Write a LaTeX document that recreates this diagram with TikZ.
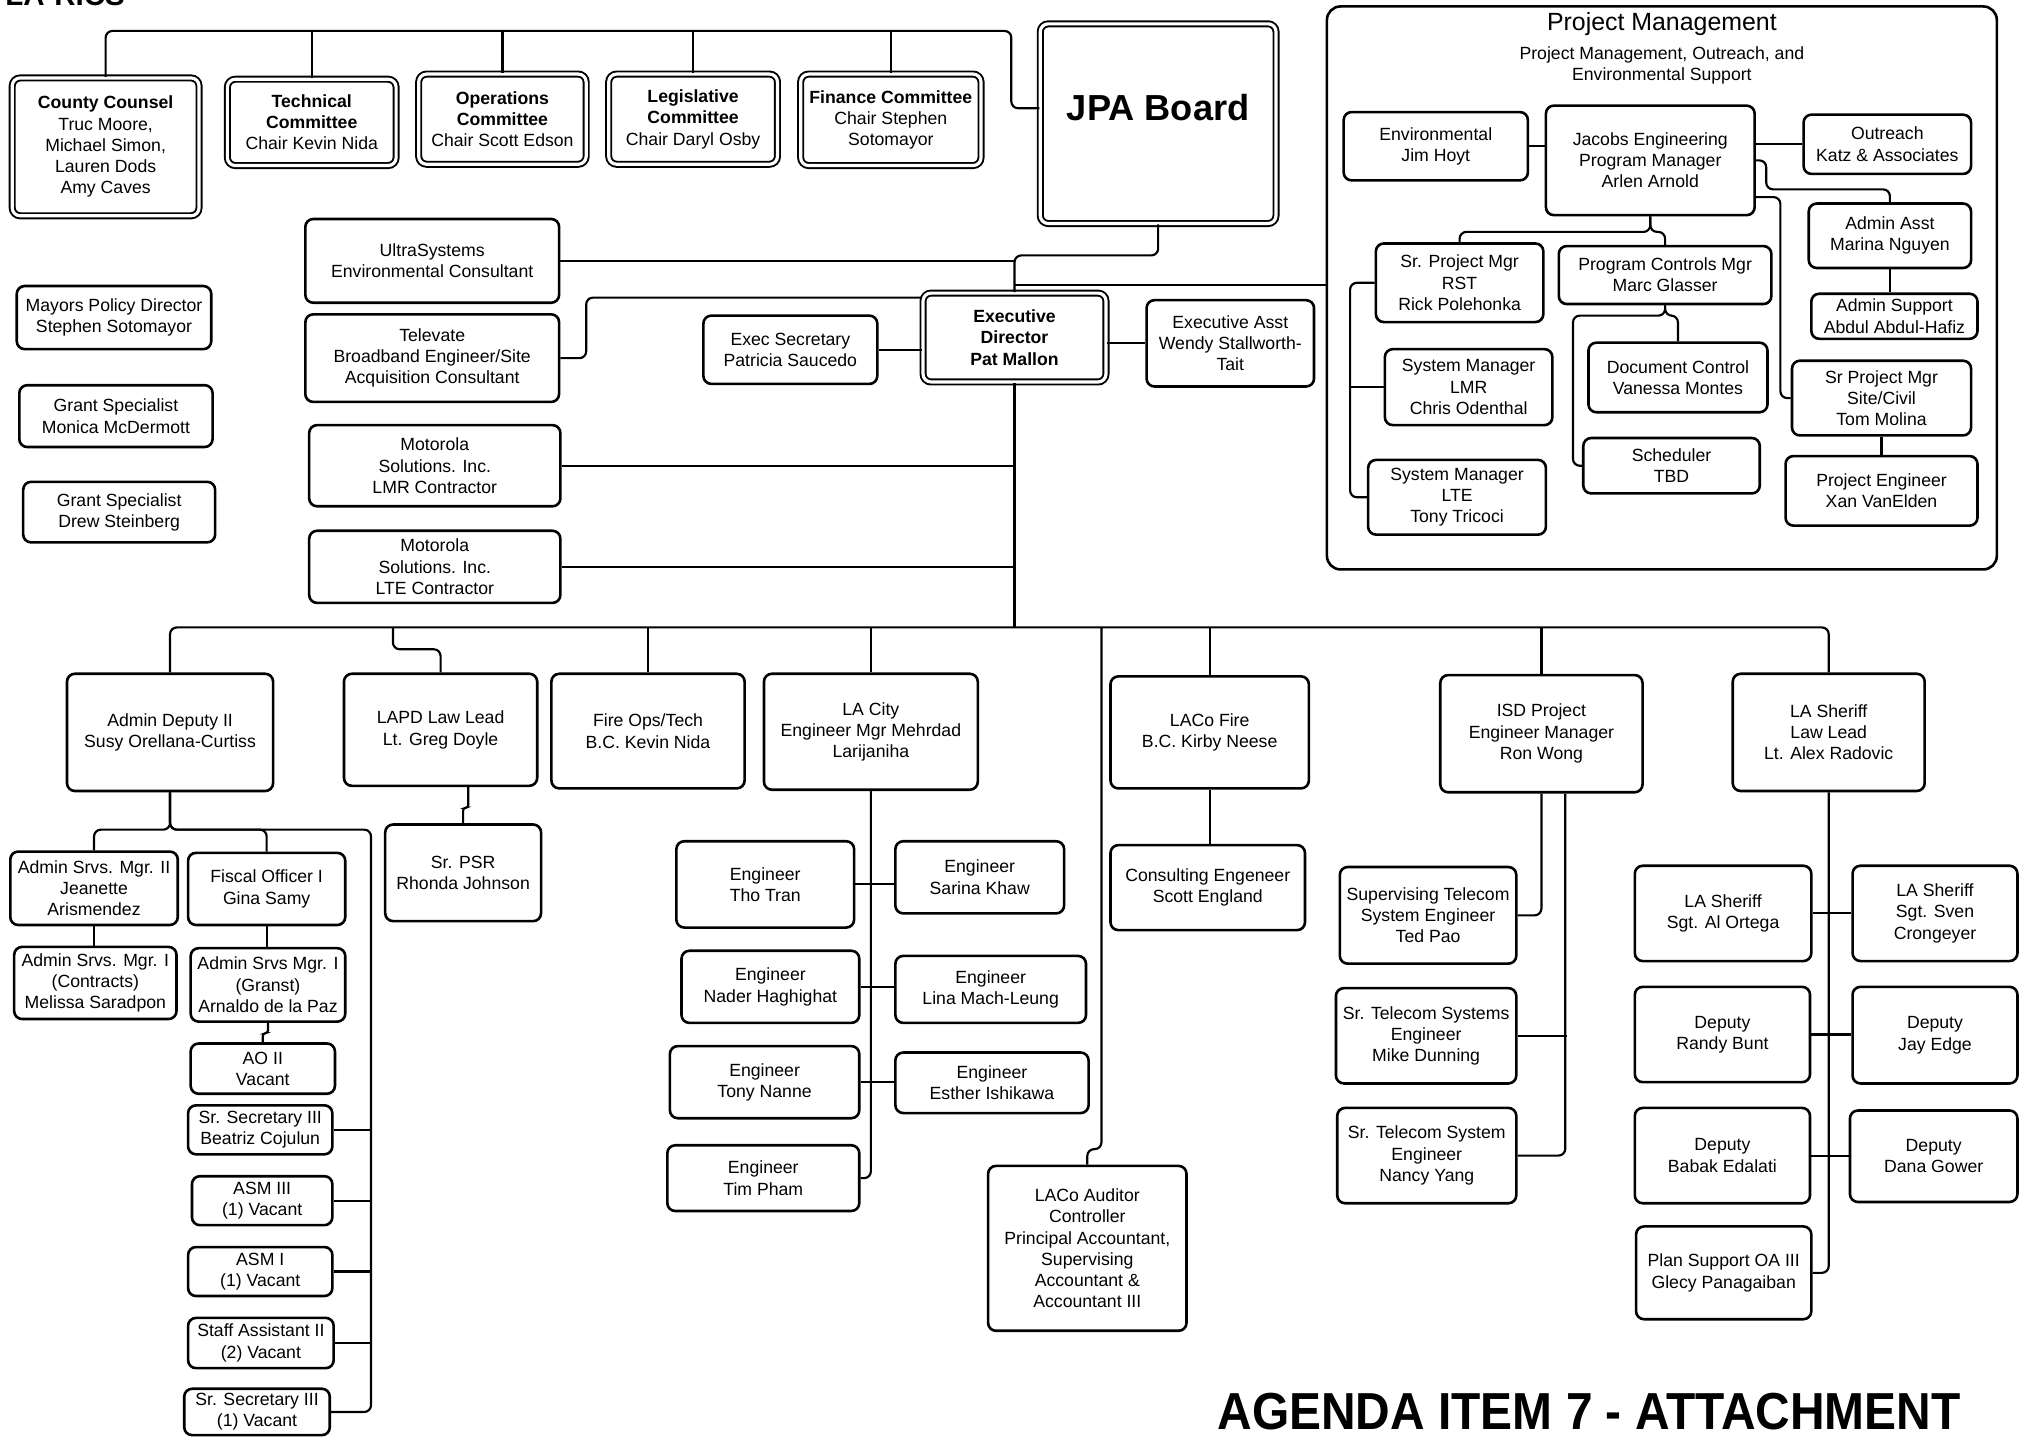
\documentclass[tikz,border=0pt]{standalone}
\usepackage{fontspec}
\setmainfont{Liberation Sans}

\begin{document}
\begin{tikzpicture}[x=0.02cm, y=-0.02cm,
	box/.style={draw, line width=1.15pt, rounded corners=3.5pt, align=center, inner sep=1pt, font=\fontsize{7.8}{9.4}\selectfont},
	board/.style={box, double, double distance=1.4pt, line width=0.85pt},
	group/.style={draw, line width=1.15pt, rounded corners=6pt},
	conn/.style={line width=0.95pt, rounded corners=3pt},
	jog/.style={conn, rounded corners=1.2pt}]

	\useasboundingbox (0,0) rectangle (1568,1116);

	\node[anchor=base west, font=\fontsize{13}{13}\selectfont\bfseries] (larics) at (-2,4) {LA-RICS};

	% board and committees
	\foreach \nm/\cx/\cy/\w/\h/\txt in {
		cc/82/114/145/107/{\textbf{County Counsel}\\Truc Moore,\\Michael Simon,\\Lauren Dods\\Amy Caves},
		tc/242/95/131/67/{\textbf{Technical}\\\textbf{Committee}\\Chair Kevin Nida},
		oc/390/92.5/130/70/{\textbf{Operations}\\\textbf{Committee}\\Chair Scott Edson},
		lc/538/92.5/131/70/{\textbf{Legislative}\\\textbf{Committee}\\Chair Daryl Osby},
		fc/691.5/93/140/71/{\textbf{Finance Committee}\\Chair Stephen\\Sotomayor}}
	{
		\node[board, minimum width=\w*0.02cm, minimum height=\h*0.02cm] (\nm) at (\cx,\cy) {\txt};
	}
	\node[board, minimum width=183*0.02cm, minimum height=155*0.02cm, font=\fontsize{16}{16}\selectfont\bfseries, text depth=0.5cm] (jpa) at (899,96) {JPA Board};
	\node[board, minimum width=142*0.02cm, minimum height=69*0.02cm, font=\fontsize{7.8}{9.4}\selectfont\bfseries] (exd) at (787.5,262) {Executive\\Director\\Pat Mallon};

	% project management
	\node[group, minimum width=520*0.02cm, minimum height=437*0.02cm] (pm) at (1290,223.5) {};
	\node[font=\fontsize{11}{12}\selectfont] (pmtitle) at (1290,19) {Project Management};
	\node[align=center, font=\fontsize{7.8}{9.4}\selectfont] (pmsub) at (1290,51) {Project Management, Outreach, and\\Environmental Support};

	\foreach \nm/\cx/\cy/\w/\h/\txt in {
		env/1114.5/113.5/143/53/{Environmental\\Jim Hoyt},
		jac/1281/124.5/162/85/{Jacobs Engineering\\Program Manager\\Arlen Arnold},
		outr/1465/112/130/46/{Outreach\\Katz \& Associates},
		aasst/1467/183/126/50/{Admin Asst\\Marina Nguyen},
		asup/1470.5/245.5/129/35/{Admin Support\\Abdul Abdul-Hafiz},
		spmrst/1133/219.5/130/61/{Sr. Project Mgr\\RST\\Rick Polehonka},
		pcm/1292.5/213.5/165/45/{Program Controls Mgr\\Marc Glasser},
		smlmr/1140/300.5/130/59/{System Manager\\LMR\\Chris Odenthal},
		smlte/1131/386/138/58/{System Manager\\LTE\\Tony Tricoci},
		doc/1302.5/293/139/54/{Document Control\\Vanessa Montes},
		sched/1297.5/361.5/137/43/{Scheduler\\TBD},
		spmsite/1460.5/309/139/58/{Sr Project Mgr\\Site/Civil\\Tom Molina},
		peng/1460.5/381/149/54/{Project Engineer\\Xan VanElden}}
	{
		\node[box, minimum width=\w*0.02cm, minimum height=\h*0.02cm] (\nm) at (\cx,\cy) {\txt};
	}

	% staff round the director
	\foreach \nm/\cx/\cy/\w/\h/\txt in {
		us/335.5/202.5/197/65/{UltraSystems\\Environmental Consultant},
		tel/335.5/278/197/68/{Televate\\Broadband Engineer/Site\\Acquisition Consultant},
		es/613.5/271.5/135/53/{Exec Secretary\\Patricia Saucedo},
		ea/955/266.5/130/67/{Executive Asst\\Wendy Stallworth-\\Tait},
		mlmr/337.5/361.5/195/63/{Motorola\\Solutions. Inc.\\LMR Contractor},
		mlte/337.5/440/195/56/{Motorola\\Solutions. Inc.\\LTE Contractor},
		mpd/88.5/246.5/151/49/{Mayors Policy Director\\Stephen Sotomayor},
		gsm/90/323/150/48/{Grant Specialist\\Monica McDermott},
		gsd/92.5/397.5/149/47/{Grant Specialist\\Drew Steinberg}}
	{
		\node[box, minimum width=\w*0.02cm, minimum height=\h*0.02cm] (\nm) at (\cx,\cy) {\txt};
	}

	% leads and their teams
	\foreach \nm/\cx/\cy/\w/\h/\txt in {
		ad/132/568.5/160/91/{Admin Deputy II\\Susy Orellana-Curtiss},
		lapd/342/566.5/150/87/{LAPD Law Lead\\Lt. Greg Doyle},
		fire/503/567.5/150/89/{Fire Ops/Tech\\B.C. Kevin Nida},
		lac/676/568/166/90/{LA City\\Engineer Mgr Mehrdad\\Larijaniha},
		lcf/939/568.5/154/87/{LACo Fire\\B.C. Kirby Neese},
		isd/1196.5/569.5/157/91/{ISD Project\\Engineer Manager\\Ron Wong},
		shf/1419.5/568.5/149/91/{LA Sheriff\\Law Lead\\Lt. Alex Radovic},
		aud/844/969/154/128/{LACo Auditor\\Controller\\Principal Accountant,\\Supervising\\Accountant \&\\Accountant III},
		asm2/73/689.5/130/57/{Admin Srvs. Mgr. II\\Jeanette\\Arismendez},
		fo/207/690/122/56/{Fiscal Officer I\\Gina Samy},
		asm1c/74/763/126/56/{Admin Srvs. Mgr. I\\(Contracts)\\Melissa Saradpon},
		asm1g/208/764.5/120/57/{Admin Srvs Mgr. I\\(Granst)\\Arnaldo de la Paz},
		ao2/204/829.5/112/39/{AO II\\Vacant},
		ss3a/202/877/112/38/{Sr. Secretary III\\Beatriz Cojulun},
		asm3/203.5/932/109/38/{ASM III\\(1) Vacant},
		asmi/202/987/112/38/{ASM I\\(1) Vacant},
		sa2/202.5/1042.5/113/39/{Staff Assistant II\\(2) Vacant},
		ss3b/199.5/1096/113/36/{Sr. Secretary III\\(1) Vacant},
		psr/359.5/677.5/121/75/{Sr. PSR\\Rhonda Johnson},
		tho/594/686.5/138/67/{Engineer\\Tho Tran},
		sar/760.5/681/131/56/{Engineer\\Sarina Khaw},
		nad/598/766/138/56/{Engineer\\Nader Haghighat},
		lina/769/768/148/52/{Engineer\\Lina Mach-Leung},
		tony/593.5/840/147/56/{Engineer\\Tony Nanne},
		est/770/840.5/150/47/{Engineer\\Esther Ishikawa},
		tim/592.5/914.5/149/51/{Engineer\\Tim Pham},
		cons/937.5/689/151/66/{Consulting Engeneer\\Scott England},
		stp/1108.5/710.5/137/75/{Supervising Telecom\\System Engineer\\Ted Pao},
		stm/1107/804/140/74/{Sr. Telecom Systems\\Engineer\\Mike Dunning},
		stn/1107.5/897/139/74/{Sr. Telecom System\\Engineer\\Nancy Yang},
		alo/1337.5/709/137/74/{LA Sheriff\\Sgt. Al Ortega},
		sven/1502/709/128/74/{LA Sheriff\\Sgt. Sven\\Crongeyer},
		rb/1337/803/136/74/{Deputy\\Randy Bunt},
		je/1502/803.5/128/75/{Deputy\\Jay Edge},
		be/1337/897/136/74/{Deputy\\Babak Edalati},
		dg/1501/897.5/130/71/{Deputy\\Dana Gower},
		ps/1338/988/136/72/{Plan Support OA III\\Glecy Panagaiban}}
	{
		\node[box, minimum width=\w*0.02cm, minimum height=\h*0.02cm] (\nm) at (\cx,\cy) {\txt};
	}

	\coordinate (topbus) at (0,24);
	\coordinate (botbus) at (0,487);
	\coordinate (pmlink) at (787.5,221);
	\coordinate (adspine) at (287,0);

	% top
	\draw[conn] (cc.north) |- (785,24) |- ([yshift=0.24cm]jpa.west);
	\foreach \nm in {tc, oc, lc, fc}
		\draw[conn] (\nm.north) -- (\nm.north |- topbus);

	\draw[conn] (jpa.south) -- ++(0,24) -| (exd.north);
	\draw[conn] (us.east) -- (us.east -| exd.north);
	\draw[conn] (pmlink) -- (pmlink -| pm.west);
	\draw[conn] (tel.east) -- ++(20,0) |- ([yshift=0.62cm]exd.west);
	\draw[conn] (es.east) -- (es.east -| exd.west);
	\draw[conn] (ea.west) -- (ea.west -| exd.east);
	\draw[conn] (mlmr.east) -- (mlmr.east -| exd.south);
	\draw[conn] (mlte.east) -- (mlte.east -| exd.south);
	\draw[conn] (exd.south) -- (exd.south |- botbus);

	% project management
	\draw[conn] (env.east) -- (env.east -| jac.west);
	\draw[conn] (outr.west) -- (outr.west -| jac.east);
	\draw[conn] (jac.east) -| (1371,147) -| (aasst.north);
	\draw[conn] ([yshift=-0.57cm]jac.east) -| ([xshift=-0.16cm]spmsite.west) -- (spmsite.west);
	\draw[conn] (aasst.south) -- (aasst.south |- asup.north);
	\draw[conn] (spmsite.south) -- (spmsite.south |- peng.north);
	\draw[conn] (jac.south) -- ++(0,12) -| (spmrst.north);
	\draw[conn] (jac.south) -- ++(0,12) -| (pcm.north);
	\draw[conn] (spmrst.west) -| ([xshift=-0.26cm]smlte.west) -- (smlte.west);
	\draw[conn] (smlmr.west) -- ++(-26,0);
	\draw[conn] (pcm.south) -- ++(0,8) -| ([xshift=-0.14cm]sched.west) -- (sched.west);
	\draw[conn] (pcm.south) -- ++(0,8) -| (doc.north);

	% lower bus
	\draw[conn] (ad.north) |- (botbus -| shf.north) -- (shf.north);
	\foreach \nm in {fire, lac, lcf, isd}
		\draw[conn] (\nm.north) -- (\nm.north |- botbus);
	\draw[conn] (lapd.north) -- ++(0,-18) -| ([xshift=-0.74cm]lapd.north |- botbus);
	\draw[conn] (aud.north) -- ++(0,-12) -| ([xshift=0.22cm]aud.north |- botbus);

	% admin deputy
	\draw[conn] (ad.south) -- ++(0,29) -| (asm2.north);
	\draw[conn] (ad.south) -- ++(0,29) -| (fo.north);
	\draw[conn] (ad.south) -- ++(0,29) -| ([xshift=0.62cm]ss3b.east) -- (ss3b.east);
	\foreach \nm in {ss3a, asm3, asmi, sa2}
		\draw[conn] (\nm.east) -- (\nm.east -| adspine);
	\draw[conn] (asm2.south) -- (asm2.south |- asm1c.north);
	\draw[conn] (fo.south) -- (fo.south |- asm1g.north);
	\draw[jog] (asm1g.south) -- ++(0,8) -| (ao2.north);
	\draw[jog] ([xshift=0.08cm]psr.north |- lapd.south) -- ++(0,16) -| (psr.north);

	% la city
	\draw[conn] (lac.south) |- (tim.east);
	\foreach \src/\dst in {tho/sar, nad/lina, tony/est}
		\draw[conn] (\src.east) -- (\src.east -| \dst.west);

	\draw[conn] (lcf.south) -- (lcf.south |- cons.north);

	% isd
	\draw[conn] (isd.south) |- (stp.east);
	\draw[conn] ([xshift=0.37cm]isd.south) |- (stn.east);
	\draw[conn] (stm.east) -- ++(38,0);

	% sheriff
	\draw[conn] (shf.south) |- (ps.east);
	\foreach \src/\dst in {alo/sven, rb/je, be/dg}
		\draw[conn] (\src.east) -- (\src.east -| \dst.west);

	\node[font=\fontsize{23}{23}\selectfont\bfseries] (agenda) at (1233.5,1096) {\scalebox{0.92}[1]{AGENDA ITEM 7 - ATTACHMENT}};

\end{tikzpicture}
\end{document}
